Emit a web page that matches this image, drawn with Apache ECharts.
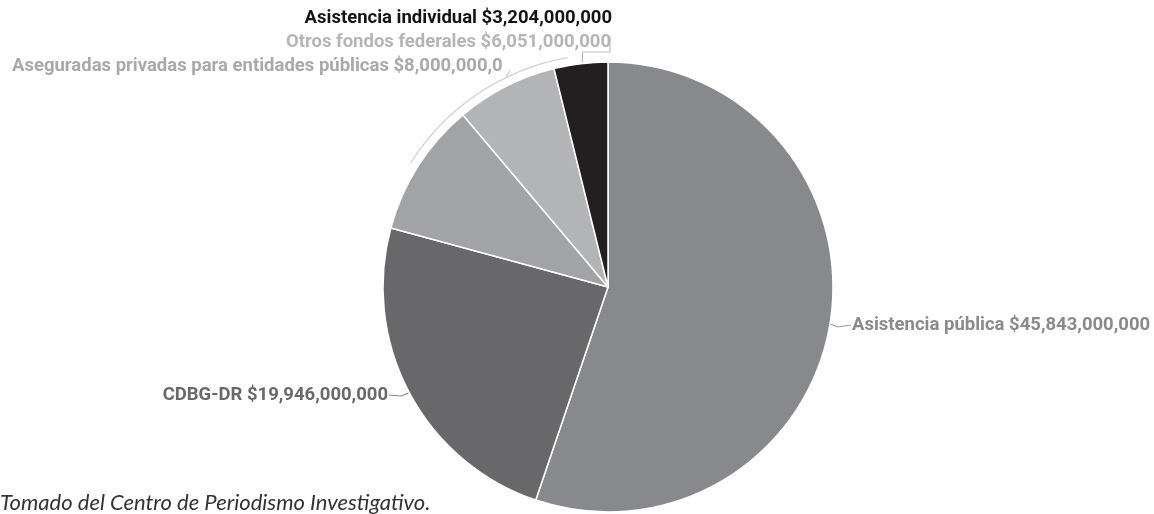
<!DOCTYPE html>
<html><head><meta charset="utf-8">
<script src="https://cdn.jsdelivr.net/npm/echarts@6/dist/echarts.min.js"></script>
<style>html,body{margin:0;padding:0;background:#fff}#c{width:1154px;height:514px}</style>
</head><body><div id="c"></div>
<script>
const categories = ['Asistencia pública','CDBG-DR','Aseguradas privadas para entidades públicas','Otros fondos federales','Asistencia individual'];
const values = [45843000000, 19946000000, 8000000000, 6051000000, 3204000000];
const sliceColors = ['#88898d','#68686a','#a2a3a5','#b3b4b6','#231f20'];
const labelColors = ['#8a8a8c','#69696b','#a9a9ab','#b5b5b7','#141414'];
const footnote = 'Tomado del Centro de Periodismo Investigativo.';

const CX = 608, CY = 287, R = 225;
const total = values.reduce((a,b)=>a+b,0);
const mids = []; { let acc = 0; values.forEach(v => { mids.push((acc + v/2)/total*360); acc += v; }); }
function pt(aDeg, r){ const a = aDeg*Math.PI/180; return [CX + r*Math.sin(a), CY - r*Math.cos(a)]; }
function fmt(v){ return '$' + v.toLocaleString('en-US'); }

const chart = echarts.init(document.getElementById('c'));
const labelPos = [
  {x: CX+244, y: CY+38, align:'left'},
  {x: CX-220, y: CY+108, align:'right'},
  {x: 12, y: 66, align:'left'},
  {x: CX+3, y: 42, align:'right'},
  {x: CX+4, y: 18, align:'right'}
];
const arcFrom = 302, arcTo = 350, arcR = R + 8;
const tick = pt(334, arcR);
chart.setOption({
  animation: false,
  graphic: [
    {type:'arc', silent:true, shape:{cx:CX, cy:CY, r:arcR, startAngle:(arcFrom-90)*Math.PI/180, endAngle:(arcTo-90)*Math.PI/180, clockwise:true}, style:{stroke:'#cfcfcf', fill:null, lineWidth:1.2}},
    {type:'polyline', silent:true, shape:{points:[tick,[tick[0]+4, 70]]}, style:{stroke:'#cfcfcf', fill:null, lineWidth:1.2}},
    {type:'polyline', silent:true, shape:{points:[pt(353.5,R+1),[pt(353.5,R)[0],52],[CX+2,52],[CX+2,37]]}, style:{stroke:'#bdbdbd', fill:null, lineWidth:1.2}},
    {type:'text', left:0, top:492, style:{text: footnote, font:'italic 22px Lato', fill:'#333'}}
  ],
  series: [{
    type: 'pie',
    center: [CX, CY],
    radius: [0, R],
    startAngle: 90,
    clockwise: true,
    data: categories.map((n,i)=>({name:n, value:values[i], itemStyle:{color:sliceColors[i]},
      label: i===2 ? {color:labelColors[i], width:500, overflow:'truncate', ellipsis:''} : {color:labelColors[i], width:400, overflow:'none'},
      labelLine:{show: i<2, lineStyle:{color: i===0 ? '#9a9a9a' : '#8a8a8a'}}})),
    itemStyle: {borderColor:'#fff', borderWidth:1.5},
    label: {
      show: true,
      formatter: p => p.name + ' ' + fmt(p.value),
      fontFamily: 'Roboto', fontSize: 18.5, fontWeight: 'bold'
    },
    labelLine: {show:true, length: 8, length2: 8, lineStyle:{width:1.2}},
    labelLayout: function(p){
      const i = p.dataIndex;
      const lp = labelPos[i];
      const o = {x: lp.x, y: lp.y, align: lp.align, verticalAlign: 'middle'};
      if (i === 0) { const e = pt(mids[0], R-2); o.labelLinePoints = [e, [e[0]+10, lp.y+2], [lp.x-1, lp.y]]; }
      if (i === 1) { const e = pt(mids[1], R-2); o.labelLinePoints = [e, [e[0]-10, lp.y+1], [lp.x+1, lp.y]]; }
      return o;
    }
  }]
});
</script></body></html>
